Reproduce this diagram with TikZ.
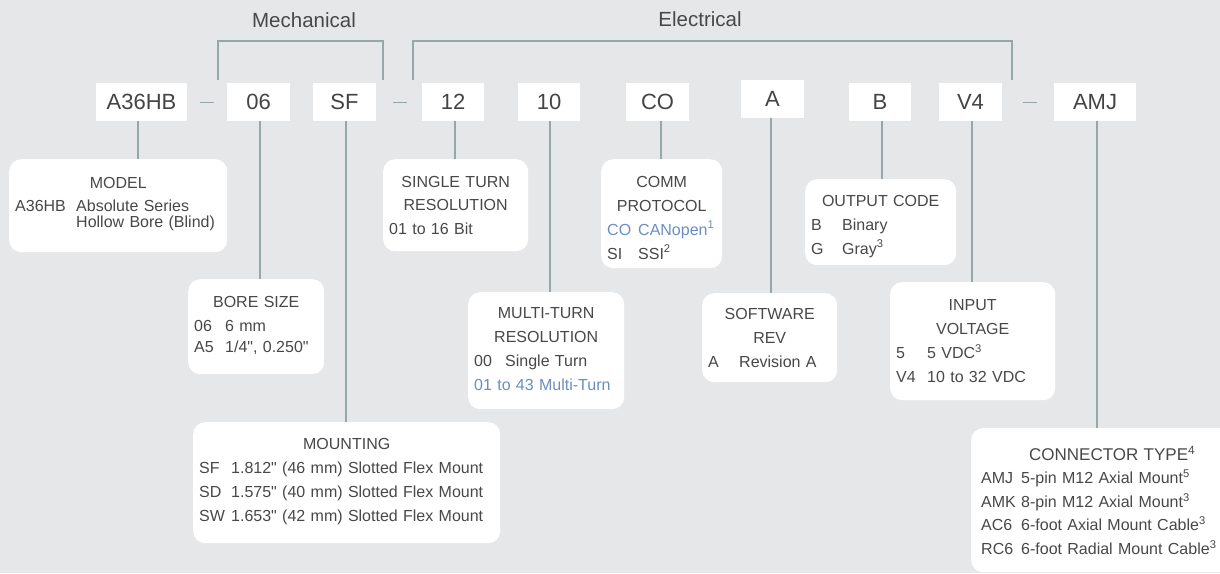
\documentclass[tikz,border=0pt]{standalone}
\usepackage{fontspec}
\setmainfont{Liberation Sans}[Ligatures=TeXOff]

\definecolor{bggray}{HTML}{E6E7E9}
\definecolor{linegray}{HTML}{97A6A8}
\definecolor{txtgray}{HTML}{484848}
\definecolor{codegray}{HTML}{444444}
\definecolor{linkblue}{HTML}{6B8FC3}

\newcommand{\partcode}[2][31pt]{\makebox[#1][l]{#2}}

\begin{document}
\begin{tikzpicture}[x=1pt,y=-1pt,
	codebox/.style={fill=white,minimum height=38,inner sep=0pt,text=codegray,font=\fontsize{22}{26}\selectfont},
	descbox/.style={fill=white,rounded corners=12,anchor=north west,inner xsep=6,inner ysep=0,align=left,text=txtgray,font=\fontsize{16}{24}\selectfont},
	link/.style={draw=linegray,line width=1.7},
	groupname/.style={anchor=base,text=txtgray,font=\fontsize{20.5}{24}\selectfont}]
	\useasboundingbox (0,0) rectangle (1220,573);
	\fill[bggray] (0,0) rectangle (1220,573);
	\clip (0,0) rectangle (1220,573);

	\node[groupname] (mech) at (304,27.3) {Mechanical};
	\node[groupname] (elec) at (700,26.7) {Electrical};
	\draw[link] (218,80) -- (218,41) -- (383,41) -- (383,80);
	\draw[link] (413,80) -- (413,41) -- (1012,41) -- (1012,80);

	\node[codebox,minimum width=91] (a36hb) at (141.5,102) {A36HB};
	\node[codebox,minimum width=63] (bore06) at (258.5,102) {06};
	\node[codebox,minimum width=63] (mountsf) at (344.5,102) {SF};
	\node[codebox,minimum width=62] (res12) at (453,102) {12};
	\node[codebox,minimum width=62] (multi10) at (549,102) {10};
	\node[codebox,minimum width=63] (protco) at (657.5,102) {CO};
	\node[codebox,minimum width=63] (reva) at (772.5,99) {A};
	\node[codebox,minimum width=62] (outb) at (880,102) {B};
	\node[codebox,minimum width=63] (voltv4) at (970.5,102) {V4};
	\node[codebox,minimum width=82] (connamj) at (1095,102) {AMJ};

	\draw[link] (200,102.5) -- (214,102.5);
	\draw[link] (393,102.5) -- (407,102.5);
	\draw[link] (1023,102.5) -- (1037,102.5);

	\node[descbox,minimum height=93,text width=206,font=\fontsize{16}{16.5}\selectfont] (model) at (9,159)
		{{\centering MODEL\par}\vspace{6.5pt}\partcode[61pt]{A36HB}Absolute Series\\\partcode[61pt]{}Hollow Bore (Blind)\par\vspace*{3pt}};
	\node[descbox,minimum height=95,text width=124,font=\fontsize{16}{20.7}\selectfont] (boresize) at (188,279)
		{{\centering BORE SIZE\par}\vspace{3.3pt}\partcode{06}6 mm\\\partcode{A5}1/4", 0.250"\par\vspace*{3pt}};
	\node[descbox,minimum height=92,text width=133,font=\fontsize{16}{23.5}\selectfont] (singleres) at (383,159)
		{{\centering SINGLE TURN\\RESOLUTION\par}01 to 16 Bit};
	\node[descbox,minimum height=109,text width=109] (commprot) at (601,159)
		{{\centering COMM\\PROTOCOL\par}\leavevmode\textcolor{linkblue}{\partcode{CO}CANopen\textsuperscript{1}}\\\partcode{SI}SSI\textsuperscript{2}\par\vspace*{-8pt}};
	\node[descbox,minimum height=117,text width=144] (multires) at (468,292)
		{{\centering MULTI-TURN\\RESOLUTION\par}\partcode{00}Single Turn\\\textcolor{linkblue}{01 to 43 Multi-Turn}\par\vspace*{3pt}};
	\node[descbox,minimum height=89,text width=123] (softrev) at (702,293)
		{{\centering SOFTWARE\\REV\par}\partcode{A}Revision A};
	\node[descbox,minimum height=86,text width=139] (outcode) at (805,179)
		{{\centering OUTPUT CODE\par}\partcode{B}Binary\\\partcode{G}Gray\textsuperscript{3}\par\vspace*{-8pt}};
	\node[descbox,minimum height=118,text width=153] (involt) at (890,282)
		{{\centering INPUT\\VOLTAGE\par}\partcode{5}5 VDC\textsuperscript{3}\\\partcode{V4}10 to 32 VDC};
	\node[descbox,minimum height=121,text width=295] (mounting) at (193,422)
		{{\centering MOUNTING\par}\partcode[32pt]{SF}1.812" (46 mm) Slotted Flex Mount\\\partcode[32pt]{SD}1.575" (40 mm) Slotted Flex Mount\\\partcode[32pt]{SW}1.653" (42 mm) Slotted Flex Mount\par\vspace*{3pt}};
	\node[descbox,minimum height=144,text width=262,inner xsep=10,font=\fontsize{16}{23.5}\selectfont] (conntype) at (971,428)
		{{\centering\fontsize{17}{23.5}\selectfont CONNECTOR TYPE\textsuperscript{4}\par}\partcode[40pt]{AMJ}5-pin M12 Axial Mount\textsuperscript{5}\\\partcode[40pt]{AMK}8-pin M12 Axial Mount\textsuperscript{3}\\\partcode[40pt]{AC6}6-foot Axial Mount Cable\textsuperscript{3}\\\partcode[40pt]{RC6}6-foot Radial Mount Cable\textsuperscript{3}};

	\foreach \src/\dst/\dx in {a36hb/model/-3.5,bore06/boresize/1.5,mountsf/mounting/1.5,res12/singleres/2,multi10/multires/1,protco/commprot/3.5,reva/softrev/-1.5,outb/outcode/2,voltv4/involt/1.5,connamj/conntype/2}
		\draw[link] ([xshift=\dx]\src.south) -- ([xshift=\dx]\src.south |- \dst.north);
\end{tikzpicture}
\end{document}
